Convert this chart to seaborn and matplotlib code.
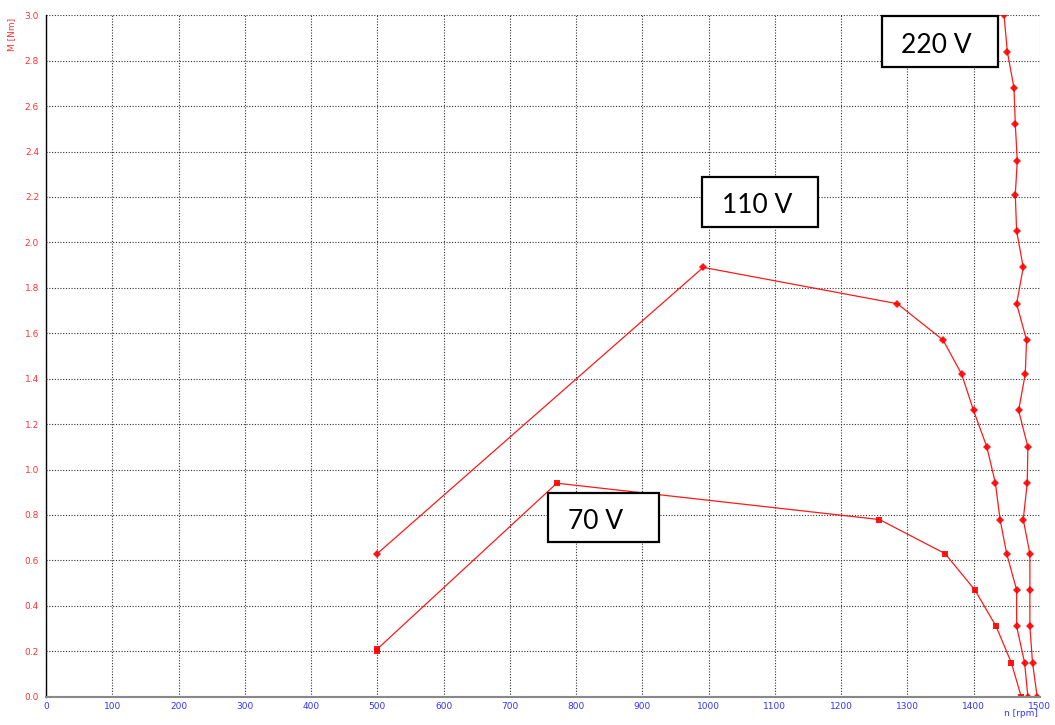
import numpy as np
import pandas as pd
import matplotlib
matplotlib.use("Agg")
import matplotlib.pyplot as plt
from matplotlib.patches import Rectangle
import seaborn as sns

# =============== DATA ===============
n_220 = [1446, 1451, 1461, 1463, 1466, 1463, 1465, 1475, 1465, 1480, 1478,
         1468, 1482, 1481, 1475, 1485, 1485, 1485, 1489, 1496]
m_220 = [3.00, 2.84, 2.68, 2.52, 2.36, 2.21, 2.05, 1.89, 1.73, 1.57, 1.42,
         1.26, 1.10, 0.94, 0.78, 0.63, 0.47, 0.31, 0.15, 0.00]

n_110 = [500, 992, 1285, 1354, 1382, 1400, 1420, 1433, 1440, 1450, 1465,
         1465, 1477, 1482]
m_110 = [0.63, 1.89, 1.73, 1.57, 1.42, 1.26, 1.10, 0.94, 0.78, 0.63, 0.47,
         0.31, 0.15, 0.00]

n_70 = [499, 500, 771, 1258, 1357, 1402, 1434, 1457, 1472]
m_70 = [0.20, 0.21, 0.94, 0.78, 0.63, 0.47, 0.31, 0.15, 0.00]

labels = ["220 V", "110 V", "70 V"]

x_ticks = list(range(0, 1501, 100))
y_ticks = [round(v * 0.2, 1) for v in range(16)]

# label layout (data coords): text centre, box x-range, box y-range
LABEL_TEXT = [(1344, 2.865), (1073, 2.161), (829, 0.770)]
LABEL_BOX = [((1261.5, 1437.6), (2.773, 2.996)),
             ((989.9, 1165.9), (2.067, 2.289)),
             ((757.1, 924.6), (0.680, 0.895))]

# =============== PLOT ===============
sns.set_style("white")
fig = plt.figure(figsize=(10.55, 7.25), dpi=100)
ax = fig.add_axes([0.0436, 0.039, 0.942, 0.940])

red = "#ff0000"
for xs, ys, mk, ms in [(n_220, m_220, "D", 4), (n_110, m_110, "D", 4), (n_70, m_70, "s", 5)]:
    sns.lineplot(x=xs, y=ys, sort=False, estimator=None, ax=ax, color=red,
                 linewidth=0.9, marker=mk, markersize=ms, markeredgewidth=0,
                 alpha=0.9)

ax.set_xlim(0, 1500)
ax.set_ylim(0, 3.0)
ax.set_xticks(x_ticks)
ax.set_yticks(y_ticks)
ax.set_yticklabels([f"{v:.1f}" for v in y_ticks])
ax.grid(True, linestyle=(0, (1, 1.5)), color="#333333", linewidth=0.8)
ax.tick_params(axis="x", colors="#3333ff", labelsize=6.5, length=3, width=0.8, pad=1)
ax.tick_params(axis="y", colors="#ff2a2a", labelsize=6.5, length=3, width=0.8, pad=2)
ax.tick_params(axis="y", labelcolor="#ff3333")

for side in ["top", "right"]:
    ax.spines[side].set_visible(False)
ax.spines["left"].set_color("black")
ax.spines["left"].set_linewidth(1.0)
ax.spines["bottom"].set_color("#888888")
ax.spines["bottom"].set_linewidth(1.5)

# axis names
fig.text(0.011, 0.975, "M [Nm]", rotation=90, color="#ff3333", fontsize=6.5,
         ha="center", va="top")
fig.text(0.968, 0.0152, "n [rpm]", color="#3333ff", fontsize=6.5,
         ha="center", va="center")

# voltage labels in boxes
for lab, (tx, ty), ((x0, x1), (y0, y1)) in zip(labels, LABEL_TEXT, LABEL_BOX):
    ax.add_patch(Rectangle((x0, y0), x1 - x0, y1 - y0, facecolor="white",
                           edgecolor="black", linewidth=1.6, zorder=4,
                           clip_on=False))
    ax.text(tx, ty, lab, fontsize=19, family="Lato",
            ha="center", va="center", color="black", zorder=5)

plt.savefig("out.png", dpi=100)
plt.close()
